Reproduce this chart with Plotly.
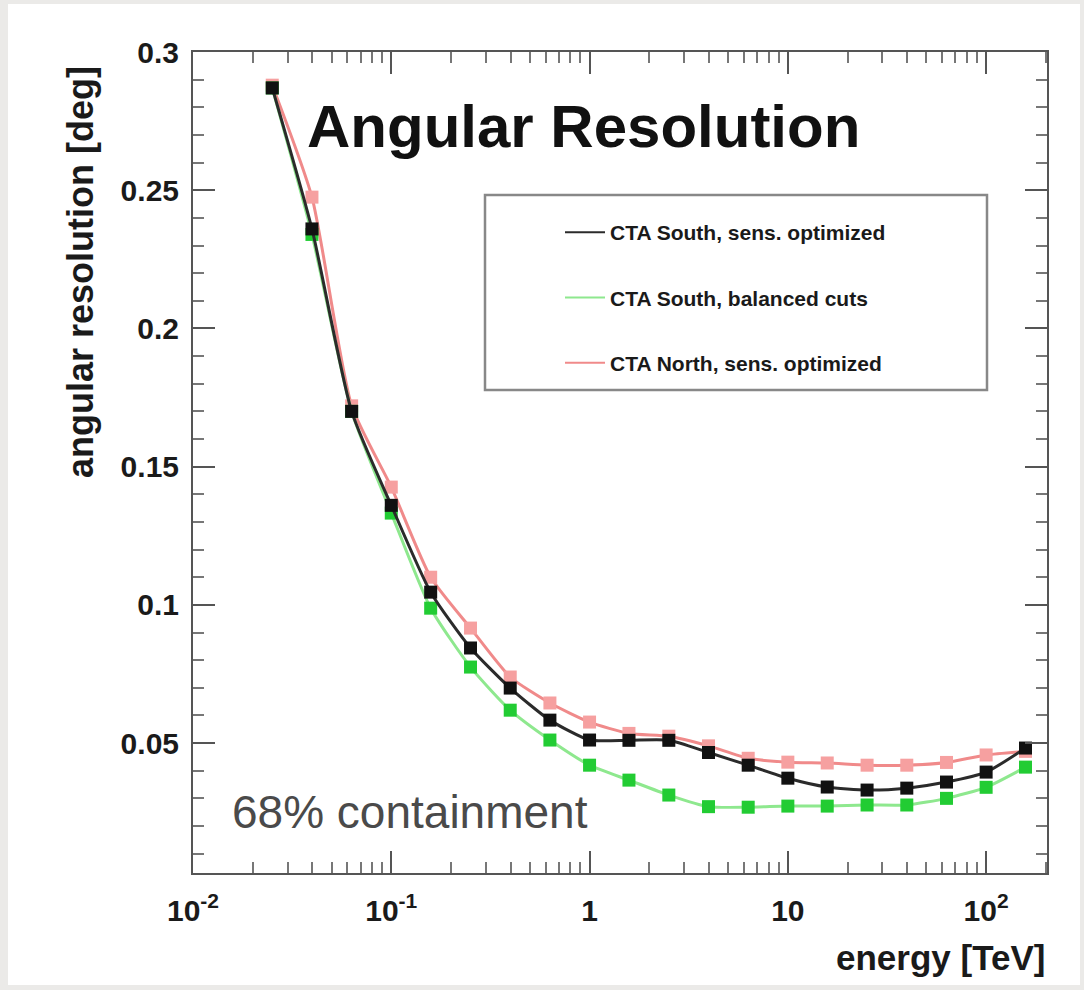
import plotly.graph_objects as go

# ---------------- data ----------------
energy_tev = [0.0251, 0.0398, 0.0631, 0.1, 0.158, 0.251, 0.398, 0.631, 1.0, 1.58,
              2.51, 3.98, 6.31, 10.0, 15.8, 25.1, 39.8, 63.1, 100.0, 158.0]

south_sens = [0.287, 0.236, 0.170, 0.136, 0.1046, 0.0844, 0.0699, 0.0583, 0.0511, 0.0510,
              0.0510, 0.0466, 0.0420, 0.0373, 0.0341, 0.0330, 0.0337, 0.0359, 0.0395, 0.0482]

south_bal = [0.287, 0.234, 0.170, 0.1332, 0.0988, 0.0775, 0.0619, 0.0511, 0.0420, 0.0366,
             0.0312, 0.0270, 0.0268, 0.0272, 0.0272, 0.0276, 0.0276, 0.0300, 0.0340, 0.0413]

north_sens = [0.288, 0.2475, 0.172, 0.1426, 0.110, 0.0916, 0.0739, 0.0645, 0.0576, 0.0535,
              0.0525, 0.0490, 0.0445, 0.0431, 0.0428, 0.0420, 0.0420, 0.0430, 0.0457, 0.0470]

series_names = ["CTA South, sens. optimized", "CTA South, balanced cuts", "CTA North, sens. optimized"]

x_tickvals = [0.01, 0.1, 1, 10, 100]
x_ticktext = ["10<sup>-2</sup>", "10<sup>-1</sup>", "1", "10", "10<sup>2</sup>"]
y_tickvals = [0.05, 0.1, 0.15, 0.2, 0.25, 0.3]
y_ticktext = ["0.05", "0.1", "0.15", "0.2", "0.25", "0.3"]

# ---------------- styles ----------------
FONT = "Liberation Sans, Arial, Helvetica, sans-serif"
line_colors = ["#2b2b2b", "#8ee88e", "#f08a8a"]
marker_colors = ["#111111", "#22cc33", "#f6a0a0"]

# layout geometry (pixels)
W, H = 1084, 990
L, R, T, B = 193, 1047, 52, 873
pw, ph = R - L, B - T


def px(xp):
    return (xp - L) / pw


def py(yp):
    return (B - yp) / ph


fig = go.Figure()

series = [south_sens, south_bal, north_sens]
draw_order = [2, 1, 0]
for i in draw_order:
    fig.add_trace(go.Scatter(
        x=energy_tev, y=series[i], mode="lines+markers",
        line=dict(color=line_colors[i], width=3, shape="spline", smoothing=0.6),
        marker=dict(symbol="square", size=13, color=marker_colors[i]),
        name=series_names[i], showlegend=False, hoverinfo="x+y+name",
    ))

# legend-only entries (lines only, as in the reference legend)
for i in range(3):
    fig.add_trace(go.Scatter(
        x=[None], y=[None], mode="lines",
        line=dict(color=line_colors[i], width=2),
        name=series_names[i], legendgroup="g%d" % i, showlegend=True,
    ))

axis_common = dict(
    showline=True, linecolor="#555555", linewidth=2, mirror="allticks",
    ticks="inside", tickcolor="#555555", tickwidth=2, ticklen=22,
    showgrid=False, zeroline=False,
    tickfont=dict(family=FONT, size=30, color="#1a1a1a", weight="bold"),
)

fig.update_xaxes(
    type="log", range=[-2, 2.307],
    tickmode="array", tickvals=x_tickvals, ticktext=x_ticktext,
    minor=dict(ticks="inside", ticklen=11, tickcolor="#777777", tickwidth=1.5,
               dtick="D1", showgrid=False),
    ticklabelstandoff=10,
    **axis_common,
)
fig.update_yaxes(
    range=[0.003, 0.3],
    tickmode="array", tickvals=y_tickvals, ticktext=y_ticktext,
    minor=dict(ticks="inside", ticklen=11, tickcolor="#777777", tickwidth=1.5,
               dtick=0.01, showgrid=False),
    ticklabelstandoff=6,
    **axis_common,
)

annotations = [
    dict(text="<b>Angular Resolution</b>", x=px(305), y=py(126), xref="paper", yref="paper",
         xanchor="left", yanchor="middle", showarrow=False,
         font=dict(family=FONT, size=60, color="#111111")),
    dict(text="68% containment", x=px(230), y=py(812), xref="paper", yref="paper",
         xanchor="left", yanchor="middle", showarrow=False,
         font=dict(family=FONT, size=46, color="#4a4a4a")),
    dict(text="<b>angular resolution [deg]</b>", x=px(80), y=py(272), xref="paper", yref="paper",
         xanchor="center", yanchor="middle", textangle=-90, showarrow=False,
         font=dict(family=FONT, size=36, color="#1a1a1a")),
    dict(text="<b>energy [TeV]</b>", x=1.0, y=py(958), xref="paper", yref="paper",
         xanchor="right", yanchor="middle", showarrow=False,
         font=dict(family=FONT, size=35, color="#1a1a1a")),
]

shapes = [
    # white page card over the light grey surround
    dict(type="rect", xref="paper", yref="paper", x0=px(8), x1=px(1080), y0=py(985), y1=py(4),
         fillcolor="white", line=dict(width=0), layer="below"),
    # legend frame
    dict(type="rect", xref="paper", yref="paper", x0=px(485), x1=px(987), y0=py(390), y1=py(195),
         fillcolor="rgba(0,0,0,0)", line=dict(color="#888888", width=2.5), layer="above"),
]

fig.update_layout(
    width=W, height=H,
    margin=dict(l=L, r=W - R, t=T, b=H - B, pad=0),
    paper_bgcolor="#ebeae8", plot_bgcolor="white",
    font=dict(family=FONT, color="#1a1a1a"),
    showlegend=True,
    legend=dict(
        x=px(560), y=py(212), xanchor="left", yanchor="top",
        bgcolor="rgba(0,0,0,0)", borderwidth=0,
        font=dict(family=FONT, size=21, color="#1a1a1a", weight="bold"),
        tracegroupgap=35, itemwidth=40,
    ),
    annotations=annotations,
    shapes=shapes,
)

fig.write_html("out.html")
